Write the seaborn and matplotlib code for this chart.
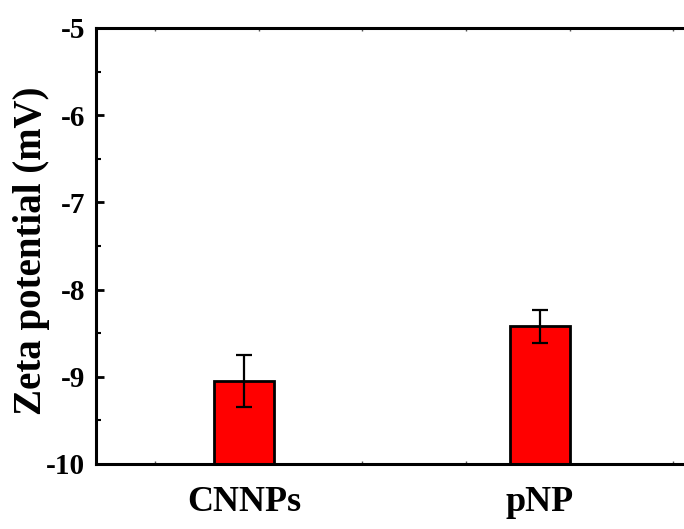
import matplotlib
matplotlib.use("Agg")
import matplotlib.pyplot as plt
import seaborn as sns
import pandas as pd
import numpy as np
from matplotlib.ticker import FixedLocator, MultipleLocator

# ---- data ----
categories = ["CNNPs", "pNP"]
zeta_values = [-9.05, -8.42]
zeta_errors = [0.30, 0.19]
y_baseline = -10
y_ticks = [-10, -9, -8, -7, -6, -5]

sns.set_theme(style="ticks")
plt.rcParams["font.family"] = "serif"
plt.rcParams["font.serif"] = ["Liberation Serif"]
plt.rcParams["font.weight"] = "bold"
plt.rcParams["axes.unicode_minus"] = False
for key in ["text.color", "axes.labelcolor", "xtick.color", "ytick.color",
            "xtick.labelcolor", "ytick.labelcolor"]:
    plt.rcParams[key] = "black"

df = pd.DataFrame({"sample": categories,
                   "height": np.array(zeta_values) - y_baseline})

fig = plt.figure(figsize=(6.84, 5.29), dpi=100)
ax = fig.add_axes([96/684, 1-464/529, (688-96)/684, (464-28)/529])

sns.barplot(data=df, x="sample", y="height", bottom=y_baseline, ax=ax,
            color="#ff0000", saturation=1, width=0.2, errorbar=None,
            edgecolor="black", linewidth=2.0)

ax.errorbar(x=np.arange(len(categories)), y=zeta_values, yerr=zeta_errors,
            fmt="none", ecolor="black", elinewidth=1.6, capsize=6,
            capthick=1.6, zorder=5)

ax.set_xlim(-0.5, 1.5)
ax.set_ylim(-10, -5)
ax.set_yticks(y_ticks)
ax.yaxis.set_minor_locator(MultipleLocator(0.5))
ax.xaxis.set_minor_locator(FixedLocator([-0.30, 0.05, 0.40, 0.75, 1.10, 1.45]))

for s in ax.spines.values():
    s.set_linewidth(2.2)
    s.set_color("black")

ax.tick_params(axis="y", which="major", direction="in", length=6, width=2,
               labelsize=21, pad=8, colors="black")
ax.tick_params(axis="y", which="minor", direction="in", length=3.5, width=1.5,
               right=False, colors="black")
ax.tick_params(axis="x", which="major", length=0, labelsize=26, pad=16,
               labelcolor="black")
ax.tick_params(axis="x", which="minor", direction="in", length=2.5, width=1,
               top=True, bottom=True, color="#555555")

for lab in ax.get_xticklabels() + ax.get_yticklabels():
    lab.set_fontfamily("Liberation Serif")
    lab.set_fontweight("bold")
    lab.set_color("black")

ax.set_xlabel("")
ax.set_ylabel("Zeta potential (mV)", fontsize=28, family="Liberation Serif",
              weight="bold", color="black")
ax.yaxis.set_label_coords(-0.077, 0.49)

fig.savefig("out.png", dpi=100)
